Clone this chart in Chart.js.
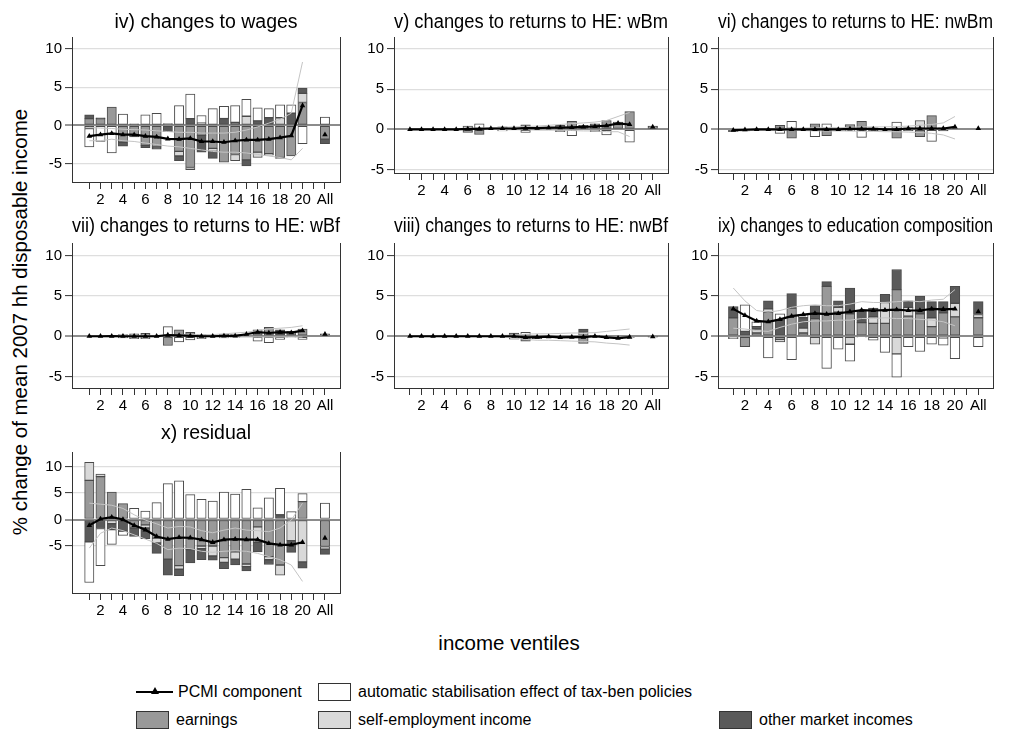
<!DOCTYPE html>
<html>
<head>
<meta charset="utf-8">
<script src="https://cdn.jsdelivr.net/npm/chart.js@4.4.1/dist/chart.umd.min.js"></script>
<style>
  body { margin: 0; width: 1018px; height: 731px; overflow: hidden; position: relative; background: #fff;
         font-family: "Liberation Sans", Arial, sans-serif; color: #000; }
  canvas { position: absolute; }
  .lbl { position: absolute; white-space: nowrap; line-height: 1; }
  #ytitle { font-size: 20.5px; left: 20px; top: 322px; transform: translate(-50%, -50%) rotate(-90deg); }
  #xtitle { font-size: 20.5px; left: 509px; top: 643px; transform: translate(-50%, -50%); }
  .sw { position: absolute; width: 33px; height: 18px; border: 1px solid #333; box-sizing: border-box; }
  .leg { position: absolute; font-size: 16px; white-space: nowrap; transform: translateY(-50%); }
</style>
</head>
<body>
<div id="ytitle" class="lbl">% change of mean 2007 hh disposable income</div>
<div id="xtitle" class="lbl">income ventiles</div>
<div id="legend"></div>
<script>
// x positions of the bars: ventiles 1-20, then "All" at 22
const ventiles = [1, 2, 3, 4, 5, 6, 7, 8, 9, 10, 11, 12, 13, 14, 15, 16, 17, 18, 19, 20, 22];
const tickPositions = [1, 2, 3, 4, 5, 6, 7, 8, 9, 10, 11, 12, 13, 14, 15, 16, 17, 18, 19, 20, 21, 22];
const tickLabels = ['', '2', '', '4', '', '6', '', '8', '', '10', '', '12', '', '14', '', '16', '', '18', '', '20', '', 'All'];
const yTicks = [-5, 0, 5, 10];

const componentNames = ['earnings', 'self-employment income', 'other market incomes', 'automatic stabilisation effect of tax-ben policies'];
const componentColors = ['#999999', '#d9d9d9', '#5a5a5a', '#ffffff'];

// iv) wages
const wagesEarn  = [0.9, 0.9, 2.4, -2.2, -1.5, -2.6, -2.8, 0.25, -3.4, -5.5, -1.3, -3.0, -4.8, -3.8, -4.5, -3.5, -3.7, -4.2, -4.0, 3.0, -1.8];
const wagesSelf  = [-0.4, 0, 0, 0, 0, 0, 0, 0, -0.6, -0.3, 0.3, -0.4, 0, -0.8, 1.2, -0.7, -0.2, 1.0, 0, 1.2, 0];
const wagesOther = [0.5, 0.1, 0, -0.5, 0.2, -0.3, -0.3, -0.8, -0.6, 0.9, -2.2, -0.9, 0.9, 0.4, -0.8, 0.6, 1.0, -0.1, 1.6, 0.7, -0.6];
const wagesStab  = [-2.4, -2.1, -3.6, 1.5, 0, 1.4, 1.6, 0, 2.6, 3.2, 1.0, 2.2, 1.6, 2.2, 2.2, 1.7, 1.2, 1.7, 1.1, -2.4, 1.1];
const wagesPcmi  = [-1.4, -1.2, -1.05, -1.2, -1.2, -1.4, -1.5, -1.75, -1.8, -1.7, -2.1, -2.1, -2.2, -2.0, -1.9, -1.9, -1.8, -1.6, -1.35, 2.6, -1.2];
const wagesHi    = [-0.25, -0.35, -0.4, -0.5, -0.55, -0.6, -0.7, -0.8, -0.9, -0.9, -1.0, -1.0, -1.0, -0.9, -0.6, -0.2, 0.3, 0.8, 1.6, 8.3];
const wagesLo    = [-2.0, -2.0, -1.8, -2.0, -2.1, -2.3, -2.5, -2.7, -2.8, -3.0, -3.2, -3.4, -3.5, -3.5, -3.6, -3.8, -4.0, -4.2, -4.5, -3.0];

// v) returns to HE: wBm
const wbmEarn  = [0, 0, 0, 0, 0, -0.4, -0.65, 0, 0.3, 0, 0.55, 0.1, 0.2, 0.5, 1.0, 0.3, 0.5, 1.1, 0.6, 2.2, 0.3];
const wbmSelf  = [0, 0, 0, 0, 0, 0, 0, 0, 0, 0, 0, 0, 0, 0, 0, 0, 0, 0, 0.3, 0, 0];
const wbmOther = [0, 0, 0, 0, 0, 0, 0, 0, 0, 0, 0, 0, 0, 0, 0, 0.2, 0.2, 0, 0, 0, 0.1];
const wbmStab  = [0, 0, 0, 0, 0, 0.4, 0.7, 0, -0.2, 0, -0.4, 0, 0, -0.3, -0.8, 0, -0.3, -0.7, 0, -1.6, 0];
const wbmPcmi  = [0, 0, 0, 0, 0, 0.05, 0.05, 0.1, 0.1, 0.1, 0.15, 0.15, 0.2, 0.2, 0.25, 0.3, 0.35, 0.45, 0.75, 0.6, 0.3];
const wbmHi    = [0, 0, 0, 0, 0.05, 0.1, 0.15, 0.2, 0.25, 0.3, 0.35, 0.4, 0.5, 0.6, 0.7, 0.8, 0.9, 1.1, 1.6, 2.1];
const wbmLo    = [0, 0, 0, 0, 0, 0, 0, 0, -0.05, -0.05, -0.05, -0.1, -0.1, -0.1, -0.15, -0.2, -0.2, -0.3, -0.3, -0.9];

// vi) returns to HE: nwBm
const nwbmEarn  = [-0.3, -0.2, 0, 0, 0.5, -1.1, 0, 0.7, -0.8, 0, 0.6, 1.0, 0.2, 0, -1.1, 0.2, -0.9, 1.7, 0.2, 0, 0];
const nwbmSelf  = [0, 0, 0, 0, 0, 0, 0, 0, 0, 0, 0, 0, 0, 0, 0, 0, 1.1, 0, 0, 0, 0];
const nwbmOther = [0, 0, 0, 0, 0, 0, 0, 0, 0, 0, 0, 0, -0.2, 0, 0, -0.2, 0, 0, -0.2, 0, 0];
const nwbmStab  = [0, 0, 0, 0, -0.5, 1.0, 0, -0.9, 0.7, 0, -0.2, -1.0, 0, 0, 0.9, 0, 0, -1.5, 0, 0, 0];
const nwbmPcmi  = [-0.1, -0.05, 0, 0, 0, 0, 0, 0, 0, 0, 0.05, 0.05, 0.05, 0, 0, 0.1, 0.1, 0.1, 0.1, 0.3, 0.1];
const nwbmHi    = [0.1, 0.1, 0.1, 0.1, 0.1, 0.1, 0.15, 0.2, 0.2, 0.2, 0.25, 0.3, 0.3, 0.3, 0.35, 0.4, 0.5, 0.6, 0.8, 1.6];
const nwbmLo    = [-0.2, -0.2, -0.1, -0.1, -0.1, -0.1, -0.15, -0.2, -0.2, -0.2, -0.2, -0.25, -0.25, -0.3, -0.3, -0.35, -0.4, -0.5, -0.7, -1.2];

// vii) returns to HE: wBf
const wbfEarn  = [0, 0, 0, 0.2, 0.3, 0.35, 0, -1.15, 0.8, 0.5, 0.25, 0, 0.25, 0.2, 0, 0.8, 1.1, 0, 0.6, 0.9, 0.3];
const wbfSelf  = [0, 0, 0, 0, 0, 0, 0, 0, 0, 0, 0, 0, 0, 0, 0, 0, 0, 0, 0, 0, 0];
const wbfOther = [0, 0, 0, 0, 0, 0, 0, 0, 0, 0, 0, 0, 0, 0, 0, 0, 0, 0.8, 0, 0, 0];
const wbfStab  = [0, 0, 0, -0.2, -0.3, -0.3, 0, 1.2, -0.7, -0.45, -0.3, 0, -0.2, -0.15, 0, -0.6, -0.8, -0.4, -0.1, -0.4, 0];
const wbfPcmi  = [0, 0, 0.02, 0, 0, 0, 0, 0.15, 0.1, 0.05, 0, 0, 0.05, 0.05, 0.25, 0.5, 0.4, 0.5, 0.45, 0.7, 0.25];
const wbfHi    = [0.05, 0.05, 0.1, 0.1, 0.1, 0.1, 0.1, 0.15, 0.2, 0.2, 0.2, 0.2, 0.3, 0.4, 0.5, 0.7, 0.9, 1.0, 1.1, 1.3];
const wbfLo    = [-0.05, -0.05, -0.05, -0.05, -0.05, -0.05, -0.05, -0.05, 0, -0.05, -0.05, -0.05, -0.1, -0.1, -0.1, -0.1, -0.1, -0.1, -0.1, -0.1];

// viii) returns to HE: nwBf
const nwbfEarn  = [0, 0, 0, 0, 0, 0, 0, 0, 0, 0.4, -0.6, -0.3, -0.1, -0.2, -0.2, -0.9, 0.1, -0.15, -0.3, -0.15, -0.05];
const nwbfSelf  = [0, 0, 0, 0, 0, 0, 0, 0, 0, 0, 0, 0, 0, 0, 0, 0.5, 0, 0, 0, 0, 0];
const nwbfOther = [0, 0, 0, 0, 0, 0, 0, 0, 0, 0, 0, 0, 0, 0, 0, 0.4, 0, 0, 0, 0, 0];
const nwbfStab  = [0, 0, 0, 0, 0, 0, 0, 0, 0, -0.35, 0.5, 0, 0, 0, 0, 0, 0, 0, 0, 0, 0];
const nwbfPcmi  = [0, 0, 0, 0, 0, 0, 0, 0, 0, 0, -0.15, -0.1, -0.05, -0.15, -0.1, -0.1, 0, -0.15, -0.25, -0.1, -0.05];
const nwbfHi    = [0.05, 0.05, 0.05, 0.05, 0.05, 0.05, 0.05, 0.05, 0.1, 0.15, 0.25, 0.3, 0.3, 0.35, 0.4, 0.4, 0.45, 0.6, 0.75, 0.9];
const nwbfLo    = [-0.05, -0.05, -0.05, -0.05, -0.05, -0.05, -0.05, -0.05, -0.1, -0.2, -0.4, -0.5, -0.5, -0.55, -0.6, -0.65, -0.7, -0.85, -0.95, -1.1];

// ix) education composition
const eduEarn  = [2.3, -1.3, 0.4, 3.0, -0.4, 3.5, 0.4, 2.2, 6.2, 3.0, 2.8, 1.7, 1.6, 1.6, 5.8, 2.5, 2.8, 1.2, 2.9, 2.4, 2.3];
const eduSelf  = [0, 0, 0.5, 0.4, -0.3, 0, 0.6, -1.0, 0, 0.6, -1.0, 0, 0.8, 2.6, -2.2, 1.1, 0, 1.1, -0.2, 1.7, 0.4];
const eduOther = [1.4, 0.6, 0.3, 1.0, 2.0, 1.8, 1.3, 1.6, 0.6, 0.8, 3.2, 1.5, 1.1, 1.0, 2.5, 0.8, 2.2, 2.0, 1.4, 2.1, 1.6];
const eduStab  = [-0.3, 3.3, 0.6, -2.7, 0.8, -2.9, 0.4, 0, -4.0, -1.6, -2.1, -0.1, -0.5, -2.0, -2.9, -1.3, -1.9, -1.0, -0.9, -2.8, -1.3];
const eduPcmi  = [3.4, 2.6, 1.9, 1.8, 2.1, 2.5, 2.7, 2.85, 2.75, 2.85, 3.05, 3.25, 3.2, 3.25, 3.3, 3.2, 3.2, 3.4, 3.35, 3.4, 3.05];
const eduHi    = [6.0, 4.4, 3.2, 3.0, 3.2, 3.6, 3.8, 3.9, 3.8, 3.8, 4.0, 4.3, 4.2, 4.2, 4.3, 4.4, 4.3, 4.5, 4.6, 5.8];
const eduLo    = [1.0, 0.9, 0.7, 0.6, 1.1, 1.5, 1.8, 1.9, 1.9, 2.0, 2.0, 2.2, 2.2, 2.3, 2.2, 2.2, 2.1, 2.0, 1.8, 1.3];

// x) residual
const resEarn  = [7.4, 8.1, 5.2, 3.0, -1.6, -1.0, -3.5, -7.5, -8.7, -5.7, -5.0, -5.0, -7.2, -6.1, -8.4, -1.4, -7.0, -8.6, -0.2, 3.4, -5.1];
const resSelf  = [3.4, 0.5, -0.8, 0, 0, -0.6, -0.9, 0, -0.7, 0, -0.5, -1.9, -0.9, -1.4, -0.5, -2.9, -0.6, -1.9, -3.8, -8.0, -0.5];
const resOther = [-4.2, -1.7, -1.1, -2.2, -1.6, -2.0, -2.0, -3.0, -1.2, -2.5, -2.1, -0.8, -1.2, -1.1, -0.8, -1.8, -0.9, 0.9, -2.2, -1.2, -1.0];
const resStab  = [-7.7, -7.0, -2.8, -0.8, 2.1, 1.6, 3.2, 6.8, 7.3, 4.7, 3.8, 3.5, 5.2, 4.8, 5.7, 2.2, 4.1, 5.0, 1.5, 1.5, 3.1];
const resPcmi  = [-1.1, 0.1, 0.45, 0, -1.1, -1.95, -3.2, -3.7, -3.4, -3.45, -3.8, -4.3, -3.8, -3.7, -3.8, -3.8, -4.5, -4.8, -4.8, -4.3, -3.5];
const resHi    = [3.1, 2.9, 2.7, 2.1, 0.9, -0.1, -0.8, -1.6, -1.3, -1.4, -2.1, -2.5, -2.0, -1.6, -2.0, -2.1, -2.3, -1.6, -0.1, 3.1];
const resLo    = [-5.4, -2.6, -1.6, -2.1, -2.9, -3.7, -4.5, -5.7, -5.4, -5.5, -6.0, -6.2, -6.0, -5.9, -6.0, -6.4, -7.0, -7.6, -8.6, -11.7];

// page geometry of the three columns and the panels
const columns = [
    { left: 0,   width: 362, axisW: 72, plotRight: 340, xMin: -0.54, xMax: 23.34, barW: 9.3 },
    { left: 350, width: 350, axisW: 44, plotRight: 668, xMin: -0.38, xMax: 23.32, barW: 9.6 },
    { left: 674, width: 344, axisW: 44, plotRight: 993, xMin: -0.31, xMax: 23.26, barW: 9.7 }
];

const panels = [
    { title: 'iv) changes to wages', col: 0, top: 37, bottom: 181.7, titleY: 23, yMin: -7.4, yMax: 11.57,
      comps: [wagesEarn, wagesSelf, wagesOther, wagesStab], pcmi: wagesPcmi, hi: wagesHi, lo: wagesLo },
    { title: 'v) changes to returns to HE: wBm', col: 1, top: 37, bottom: 173, titleY: 23, yMin: -5.44, yMax: 11.5,
      comps: [wbmEarn, wbmSelf, wbmOther, wbmStab], pcmi: wbmPcmi, hi: wbmHi, lo: wbmLo },
    { title: 'vi) changes to returns to HE: nwBm', col: 2, top: 37, bottom: 173, titleY: 23, yMin: -5.44, yMax: 11.5,
      comps: [nwbmEarn, nwbmSelf, nwbmOther, nwbmStab], pcmi: nwbmPcmi, hi: nwbmHi, lo: nwbmLo },
    { title: 'vii) changes to returns to HE: wBf', col: 0, top: 243, bottom: 387.5, titleY: 227, yMin: -6.44, yMax: 11.6,
      comps: [wbfEarn, wbfSelf, wbfOther, wbfStab], pcmi: wbfPcmi, hi: wbfHi, lo: wbfLo },
    { title: 'viii) changes to returns to HE: nwBf', col: 1, top: 243, bottom: 387.5, titleY: 227, yMin: -6.44, yMax: 11.6,
      comps: [nwbfEarn, nwbfSelf, nwbfOther, nwbfStab], pcmi: nwbfPcmi, hi: nwbfHi, lo: nwbfLo },
    { title: 'ix) changes to education composition', col: 2, top: 243, bottom: 387.5, titleY: 227, yMin: -6.44, yMax: 11.6,
      comps: [eduEarn, eduSelf, eduOther, eduStab], pcmi: eduPcmi, hi: eduHi, lo: eduLo },
    { title: 'x) residual', col: 0, top: 452, bottom: 593.3, titleY: 434, yMin: -13.89, yMax: 12.77,
      comps: [resEarn, resSelf, resOther, resStab], pcmi: resPcmi, hi: resHi, lo: resLo }
];

Chart.defaults.font.family = '"Liberation Sans", Arial, sans-serif';
Chart.defaults.color = '#000';

// Stata-like frame on the right side of each plot region
const rightFrame = {
    id: 'rightFrame',
    afterDraw(chart) {
        const { ctx, chartArea } = chart;
        const x = Math.round(chartArea.right) + 0.5;
        ctx.save();
        ctx.strokeStyle = '#333';
        ctx.lineWidth = 1;
        ctx.beginPath();
        ctx.moveTo(x, chartArea.top);
        ctx.lineTo(x, chartArea.bottom);
        ctx.stroke();
        ctx.restore();
    }
};

function barPoints(values) {
    return values.map((v, i) => ({ x: ventiles[i], y: v === 0 ? null : v }));
}

function pcmiPoints(values) {
    const pts = values.slice(0, 20).map((v, i) => ({ x: ventiles[i], y: v }));
    pts.push({ x: 21, y: null });
    pts.push({ x: 22, y: values[20] });
    return pts;
}

function boundPoints(values) {
    return values.map((v, i) => ({ x: ventiles[i], y: v }));
}

function renderPanel(p) {
    const col = columns[p.col];
    const canvasTop = p.titleY - 16;
    const height = Math.round(p.bottom - canvasTop + 30);
    const canvas = document.createElement('canvas');
    canvas.width = col.width;
    canvas.height = height;
    canvas.style.left = col.left + 'px';
    canvas.style.top = canvasTop + 'px';
    document.body.appendChild(canvas);

    const datasets = [
        {
            type: 'line', label: 'PCMI component', data: pcmiPoints(p.pcmi), stack: 'pcmi',
            borderColor: '#000', borderWidth: 2.2, tension: 0,
            pointStyle: 'triangle', pointRadius: 3.2, pointBackgroundColor: '#000', pointBorderWidth: 0
        },
        {
            type: 'line', label: 'upper', data: boundPoints(p.hi), stack: 'hi',
            borderColor: '#c4c4c4', borderWidth: 1, pointRadius: 0, tension: 0
        },
        {
            type: 'line', label: 'lower', data: boundPoints(p.lo), stack: 'lo',
            borderColor: '#c4c4c4', borderWidth: 1, pointRadius: 0, tension: 0
        }
    ];
    p.comps.forEach((values, i) => {
        datasets.push({
            type: 'bar', label: componentNames[i], data: barPoints(values), stack: 'comp',
            backgroundColor: componentColors[i], borderColor: '#4a4a4a', borderWidth: 1,
            borderSkipped: false, barThickness: col.barW
        });
    });

    new Chart(canvas.getContext('2d'), {
        type: 'bar',
        data: { datasets: datasets },
        options: {
            responsive: false,
            animation: false,
            events: [],
            layout: { padding: { left: 0, right: col.left + col.width - col.plotRight, top: 0, bottom: 2 } },
            plugins: {
                legend: { display: false },
                tooltip: { enabled: false },
                title: {
                    display: true,
                    text: p.title,
                    fullSize: false,
                    color: '#000',
                    font: { size: 19.5, weight: 'normal' },
                    padding: { top: 4.3, bottom: p.top - p.titleY - 11.7 }
                }
            },
            scales: {
                x: {
                    type: 'linear',
                    min: col.xMin,
                    max: col.xMax,
                    offset: false,
                    afterBuildTicks: s => { s.ticks = tickPositions.map(v => ({ value: v })); },
                    afterFit: s => { s.height = 28; },
                    ticks: {
                        autoSkip: false, maxRotation: 0, minRotation: 0, padding: 2,
                        font: { size: 15 }, color: '#000',
                        callback: v => tickLabels[tickPositions.indexOf(v)] || ''
                    },
                    grid: { display: true, offset: false, drawOnChartArea: false, drawTicks: true,
                            tickLength: 7, tickColor: '#333', tickWidth: 1 },
                    border: { display: true, color: '#333', width: 1 }
                },
                y: {
                    stacked: true,
                    min: p.yMin,
                    max: p.yMax,
                    afterBuildTicks: s => { s.ticks = yTicks.map(v => ({ value: v })); },
                    afterFit: s => { s.width = col.axisW; },
                    ticks: { font: { size: 15 }, color: '#000', padding: 3 },
                    grid: {
                        color: c => (c.tick && c.tick.value === 0) ? '#8c8c8c' : '#dedede',
                        lineWidth: c => (c.tick && c.tick.value === 0) ? 2 : 1.2,
                        tickLength: 7, tickColor: '#333', tickWidth: 1
                    },
                    border: { display: true, color: '#333', width: 1 }
                }
            }
        },
        plugins: [rightFrame]
    });
}

panels.forEach(renderPanel);

// Legend below the graphs
const legend = document.getElementById('legend');
function addLegendBox(colorIndex, x, y) {
    const sw = document.createElement('div');
    sw.className = 'sw';
    sw.style.left = x + 'px';
    sw.style.top = (y - 9) + 'px';
    sw.style.background = componentColors[colorIndex];
    legend.appendChild(sw);
    const t = document.createElement('div');
    t.className = 'leg';
    t.textContent = componentNames[colorIndex];
    t.style.left = (x + 40) + 'px';
    t.style.top = y + 'px';
    legend.appendChild(t);
}

// PCMI line symbol
const line = document.createElement('div');
line.style.cssText = 'position:absolute;left:136px;top:691px;width:37px;height:2.4px;background:#000;';
legend.appendChild(line);
const tri = document.createElement('div');
tri.style.cssText = 'position:absolute;left:151px;top:687px;width:0;height:0;border-left:4px solid transparent;border-right:4px solid transparent;border-bottom:7px solid #000;';
legend.appendChild(tri);
const pcmiText = document.createElement('div');
pcmiText.className = 'leg';
pcmiText.textContent = 'PCMI component';
pcmiText.style.left = '178px';
pcmiText.style.top = '692px';
legend.appendChild(pcmiText);

addLegendBox(3, 318, 692);
addLegendBox(0, 136, 720);
addLegendBox(1, 318, 720);
addLegendBox(2, 719, 720);
</script>
</body>
</html>
